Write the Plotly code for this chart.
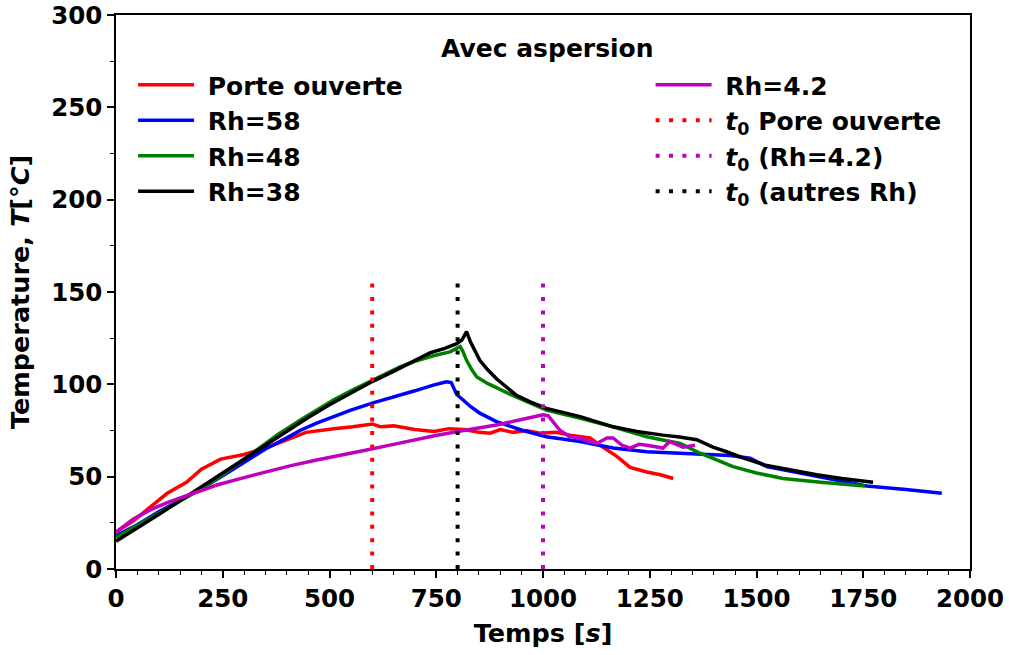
import plotly.graph_objects as go

# --- Porte ouverte ---
t_porte = [0, 40, 80, 120, 165, 200, 245, 300, 350, 400, 445, 510, 555, 600, 620, 650,
           700, 745, 780, 815, 850, 876, 900, 930, 960, 993, 1030, 1063, 1110, 1140,
           1173, 1204, 1243, 1275, 1305]
T_porte = [20, 26, 33.5, 41, 47, 54, 59.5, 62, 65.5, 70, 74, 76, 77, 78.5, 77, 77.5,
           75.5, 74.5, 76, 75.5, 74, 73.5, 75.5, 74, 75, 73.5, 74, 72.5, 71, 66,
           61, 55, 52.5, 51, 49]

# --- Rh=58 ---
t_rh58 = [0, 50, 100, 150, 200, 250, 300, 350, 400, 431, 470, 509, 550, 602, 665, 700,
          743, 774, 785, 792, 798, 813, 830, 852, 891, 953, 1008, 1087, 1164, 1243,
          1321, 1391, 1438, 1485, 1524, 1602, 1680, 1758, 1850, 1934]
T_rh58 = [18, 24, 31, 37, 43.5, 50.5, 57.5, 65, 71, 75, 79, 82.5, 86, 90, 94, 96.5,
          99.6, 101.4, 101, 97, 94.5, 91.5, 88, 84.4, 79.8, 75, 71.6, 69, 65.5, 63.5,
          62.7, 61.7, 61.5, 60, 55.4, 52, 48.5, 45, 43, 41]

# --- Rh=48 ---
t_rh48 = [0, 50, 100, 150, 197, 250, 300, 337, 380, 431, 470, 509, 550, 587, 625, 665,
          700, 743, 782, 806, 812, 821, 833, 845, 870, 891, 920, 953, 1008, 1087, 1164,
          1243, 1321, 1368, 1400, 1445, 1500, 1562, 1650, 1754]
T_rh48 = [17, 23.5, 30, 36.5, 43, 51, 59.5, 66, 73, 80.5, 86, 91.5, 96.5, 100.6, 105, 109.5,
          112.5, 115.5, 117.6, 120.4, 118, 113, 108, 104, 100.5, 98, 95, 91.5, 86, 81.6, 77,
          71.6, 68, 62.7, 59.5, 55.4, 52, 49, 47, 45]

# --- Rh=38 ---
t_rh38 = [0, 50, 100, 150, 200, 250, 300, 350, 400, 450, 500, 550, 600, 650, 700, 735,
          770, 798, 810, 821, 830, 852, 870, 891, 938, 970, 1008, 1050, 1087, 1164, 1220,
          1281, 1320, 1360, 1380, 1398, 1430, 1470, 1524, 1580, 1641, 1700, 1773]
T_rh38 = [15, 22, 29.5, 37, 44.5, 52, 59.5, 67.5, 75, 82, 89, 95.5, 101.5, 107, 113, 117,
          119.5, 122, 124, 128.5, 123, 113, 108, 103, 94, 90.5, 87, 84.5, 82.5, 77, 74.5,
          72.5, 71.5, 70, 68, 66, 63.5, 60, 56, 53.5, 51, 49, 47]

# --- Rh=4.2 ---
t_rh42 = [0, 40, 80, 120, 157, 200, 236, 300, 353, 410, 470, 530, 587, 650, 700, 743,
          800, 850, 891, 950, 1000, 1012, 1025, 1040, 1060, 1090, 1126, 1150, 1164, 1185,
          1204, 1225, 1243, 1265, 1281, 1297, 1315, 1328, 1356]
T_rh42 = [20, 27, 32, 36, 39, 42.5, 45.5, 49.5, 52.7, 56, 59, 62, 64.4, 67.5, 70, 72,
          74.5, 76.5, 78, 81, 83.5, 83, 79, 75, 72, 70.5, 68, 71, 71, 67,
          65.5, 67.5, 67, 66, 65.5, 69, 67.5, 66, 67]

# --- instants t0 ---
t0_porte = 600
t0_rh42 = 1000
t0_autres = 800
t0_span = [0, 155]

x_ticks = [0, 250, 500, 750, 1000, 1250, 1500, 1750, 2000]
y_ticks = [0, 50, 100, 150, 200, 250, 300]

RED, BLUE, GREEN, BLACK, MAGENTA = "#ff0000", "#0000ff", "#008000", "#000000", "#bf00bf"
LW = 3.5
FONT = "DejaVu Sans"
DOTS = "4px,9.4px"
PAD = "\u00a0"  # small gap between legend sample and label

fig = go.Figure()

def curve(x, y, name, color, legend):
    fig.add_trace(go.Scatter(
        x=x, y=y, mode="lines", name=PAD + name, legend=legend, legendgroup=name,
        line=dict(color=color, width=LW)))

def t0_line(t, name, color):
    fig.add_trace(go.Scatter(
        x=[t, t], y=t0_span, mode="lines", name=PAD + name, legend="legend2",
        legendgroup=name, line=dict(color=color, width=4, dash=DOTS)))

curve(t_porte, T_porte, "Porte ouverte", RED, "legend")
curve(t_rh58, T_rh58, "Rh=58", BLUE, "legend")
curve(t_rh48, T_rh48, "Rh=48", GREEN, "legend")
curve(t_rh38, T_rh38, "Rh=38", BLACK, "legend")
curve(t_rh42, T_rh42, "Rh=4.2", MAGENTA, "legend2")
t0_line(t0_porte, "<i>t</i><sub>0</sub> Pore ouverte", RED)
t0_line(t0_rh42, "<i>t</i><sub>0</sub> (Rh=4.2)", MAGENTA)
t0_line(t0_autres, "<i>t</i><sub>0</sub> (autres Rh)", BLACK)

legend_style = dict(
    font=dict(family=FONT, size=25, color="black", weight="bold"),
    bgcolor="rgba(0,0,0,0)", borderwidth=0, itemwidth=56,
    tracegroupgap=5.5, xanchor="left", yanchor="top", traceorder="normal",
)

axis_common = dict(
    showline=True, linecolor="black", linewidth=1.5, mirror=True,
    ticks="outside", ticklen=7, tickwidth=1.5, tickcolor="black",
    showgrid=False, zeroline=False, automargin=False,
    tickfont=dict(family=FONT, size=24.5, color="black", weight="bold"),
)
title_font = dict(family=FONT, size=25.5, color="black", weight="bold")

fig.update_layout(
    width=1009, height=655,
    margin=dict(l=116, r=39, t=15, b=86),
    paper_bgcolor="white", plot_bgcolor="white",
    font=dict(family=FONT, color="black"),
    xaxis=dict(
        range=[0, 2000], tickvals=x_ticks,
        minor=dict(dtick=50, ticks="outside", ticklen=4, tickwidth=1.2, tickcolor="black"),
        title=dict(text="Temps [<i>s</i>]", standoff=12, font=title_font),
        **axis_common),
    yaxis=dict(
        range=[0, 300], tickvals=y_ticks,
        minor=dict(dtick=25, ticks="outside", ticklen=4, tickwidth=1.2, tickcolor="black"),
        title=dict(text="Temperature, <i>T</i>[°<i>C</i>]", standoff=14, font=title_font),
        **axis_common),
    legend=dict(x=0.02, y=0.915, **legend_style),
    legend2=dict(x=0.626, y=0.915, **legend_style),
    annotations=[dict(
        text="Avec aspersion", x=0.505, y=0.94, xref="paper", yref="paper",
        xanchor="center", yanchor="middle", showarrow=False,
        font=dict(family=FONT, size=25, color="black", weight="bold"))],
)

fig.write_html("out.html")
